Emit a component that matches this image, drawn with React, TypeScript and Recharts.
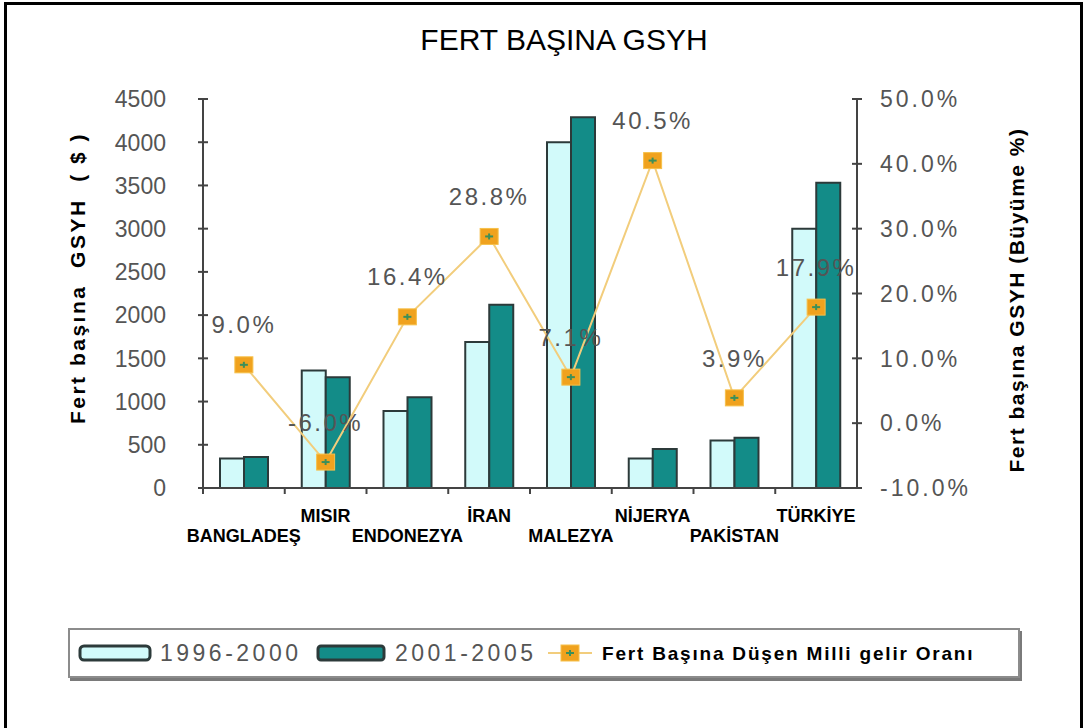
import React from 'react';
import { ComposedChart, Bar, Line, XAxis, YAxis, LabelList } from 'recharts';

const categories = ['BANGLADEŞ', 'MISIR', 'ENDONEZYA', 'İRAN', 'MALEZYA', 'NİJERYA', 'PAKİSTAN', 'TÜRKİYE'];
const gdp1996to2000 = [340, 1360, 890, 1690, 4000, 340, 550, 3000];
const gdp2001to2005 = [360, 1280, 1050, 2120, 4290, 450, 580, 3530];
const growthRate = [9.0, -6.0, 16.4, 28.8, 7.1, 40.5, 3.9, 17.9];
const leftTicks = [0, 500, 1000, 1500, 2000, 2500, 3000, 3500, 4000, 4500];
const rightTicks = [-10, 0, 10, 20, 30, 40, 50];
const seriesNames = ['1996-2000', '2001-2005', 'Fert Başına Düşen Milli gelir Oranı'];
const chartTitle = 'FERT BAŞINA GSYH';
const leftAxisTitle = 'Fert başına  GSYH  ( $ )';
const rightAxisTitle = 'Fert başına GSYH (Büyüme %)';

const data = categories.map((name, i) => ({
  name,
  a: gdp1996to2000[i],
  b: gdp2001to2005[i],
  g: growthRate[i],
}));

const FONT = '"Liberation Sans", Arial, sans-serif';
const AXIS = '#444';
const GRAY_TEXT = '#555';
const LIGHT = '#d2fafa';
const TEAL = '#138c88';
const BAR_STROKE = '#2c3a3a';
const LINE_COLOR = '#f2cd7c';
const MARK = '#f0a21e';

const LEFT_MARGIN = 37;
const RIGHT_MARGIN = 23;

const LeftTick = (props: any) => {
  const { x, y, payload } = props;
  const ax = x + LEFT_MARGIN;
  return (
    <g>
      <line x1={ax - 5} x2={ax + 5} y1={y} y2={y} stroke={AXIS} strokeWidth={2} />
      <text x={x} y={y} dy="0.36em" textAnchor="end" fontFamily={FONT} fontSize={23} fill={GRAY_TEXT}>
        {payload.value}
      </text>
    </g>
  );
};

const RightTick = (props: any) => {
  const { x, y, payload } = props;
  const ax = x - RIGHT_MARGIN;
  return (
    <g>
      <line x1={ax - 5} x2={ax + 5} y1={y} y2={y} stroke={AXIS} strokeWidth={2} />
      <text x={x} y={y} dy="0.36em" textAnchor="start" fontFamily={FONT} fontSize={23} letterSpacing={3} fill={GRAY_TEXT}>
        {`${Number(payload.value).toFixed(1)}%`}
      </text>
    </g>
  );
};

const CatTick = (props: any) => {
  const { x, y, payload, index, width, visibleTicksCount } = props;
  const band = width / (visibleTicksCount || categories.length);
  const bx = x - band / 2;
  const ly = index % 2 === 0 ? y + 48 : y + 28;
  return (
    <g>
      <line x1={bx} x2={bx} y1={y} y2={y + 6} stroke={AXIS} strokeWidth={2} />
      <text x={x} y={ly} dy="0.36em" textAnchor="middle" fontFamily={FONT} fontWeight="bold" fontSize={18} fill="#000">
        {payload.value}
      </text>
    </g>
  );
};

const MarkerDot = (props: any) => {
  const { cx, cy } = props;
  if (cx == null || cy == null) return null;
  return (
    <g>
      <rect x={cx - 9} y={cy - 8} width={18} height={16} fill={MARK} stroke="#f6c04a" strokeWidth={1} />
      <line x1={cx - 4} x2={cx + 4} y1={cy} y2={cy} stroke="#3c8f5a" strokeWidth={2} />
      <line x1={cx} x2={cx} y1={cy - 3} y2={cy + 3} stroke="#3c8f5a" strokeWidth={2} />
    </g>
  );
};

const GrowthLabel = (props: any) => {
  const { x, y, value } = props;
  return (
    <text x={x} y={y - 40} dy="0.36em" textAnchor="middle" fontFamily={FONT} fontSize={24} letterSpacing={2.5} fill={GRAY_TEXT}>
      {`${Number(value).toFixed(1)}%`}
    </text>
  );
};

const LeftTitle = (props: any) => {
  const vb = props.viewBox || {};
  const cx = vb.x + 24;
  const cy = 278;
  return (
    <text x={cx} y={cy} transform={`rotate(-90 ${cx} ${cy})`} textAnchor="middle" dy="0.36em"
      fontFamily={FONT} fontWeight="bold" fontSize={21} letterSpacing={2.5} style={{ whiteSpace: 'pre' }} fill="#000">
      {leftAxisTitle}
    </text>
  );
};

const RightTitle = (props: any) => {
  const vb = props.viewBox || {};
  const cx = vb.x + 159;
  const cy = 300;
  return (
    <text x={cx} y={cy} transform={`rotate(-90 ${cx} ${cy})`} textAnchor="middle" dy="0.36em"
      fontFamily={FONT} fontWeight="bold" fontSize={21} letterSpacing={1.5} style={{ whiteSpace: 'pre' }} fill="#000">
      {rightAxisTitle}
    </text>
  );
};

const Legend = () => (
  <div style={{
    position: 'absolute', left: 68, top: 628, width: 948, height: 46,
    border: '2px solid #8c8c8c', boxShadow: '2px 3px 0 #7a7a7a', background: '#fff',
    fontFamily: FONT,
  }}>
    <svg width={948} height={46} style={{ position: 'absolute', left: 0, top: 0 }}>
      <rect x={10} y={16} width={70} height={14} rx={4} fill={LIGHT} stroke={BAR_STROKE} strokeWidth={3} />
      <text x={90} y={23} dy="0.36em" fontFamily={FONT} fontSize={23} letterSpacing={3.5} fill={GRAY_TEXT}>{seriesNames[0]}</text>
      <rect x={248} y={16} width={66} height={14} rx={3} fill={TEAL} stroke={BAR_STROKE} strokeWidth={3} />
      <text x={325} y={23} dy="0.36em" fontFamily={FONT} fontSize={23} letterSpacing={3.5} fill={GRAY_TEXT}>{seriesNames[1]}</text>
      <line x1={478} x2={522} y1={23} y2={23} stroke={LINE_COLOR} strokeWidth={2} />
      <MarkerDot cx={500} cy={23} />
      <text x={532} y={23} dy="0.36em" fontFamily={FONT} fontWeight="bold" fontSize={19} letterSpacing={1.8} fill="#000">{seriesNames[2]}</text>
    </svg>
  </div>
);

export default function App() {
  return (
    <div style={{ position: 'absolute', left: 0, top: 0, width: 1090, height: 728, overflow: 'hidden', background: '#fff' }}>
      <div style={{
        position: 'absolute', left: 4, top: 2, width: 1079, height: 760,
        border: '3px solid #000', boxSizing: 'border-box',
      }} />
      <div style={{
        position: 'absolute', left: 19, top: 23, width: 1090, textAlign: 'center',
        fontFamily: FONT, fontSize: 30, color: '#000',
      }}>{chartTitle}</div>
      <div style={{ position: 'absolute', left: 0, top: 0 }}>
        <ComposedChart width={1090} height={728} data={data}
          margin={{ top: 99, right: 58, bottom: 180, left: 53 }}
          barGap={0} barCategoryGap="21%">
          <XAxis dataKey="name" xAxisId="x" height={60} axisLine={{ stroke: AXIS, strokeWidth: 2 }}
            tickLine={false} tickSize={0} tickMargin={0} interval={0} tick={<CatTick />} />
          <YAxis yAxisId="left" orientation="left" width={150} domain={[0, 4500]} ticks={leftTicks}
            axisLine={{ stroke: AXIS, strokeWidth: 2 }} tickLine={false} tickSize={0} tickMargin={LEFT_MARGIN}
            tick={<LeftTick />} interval={0} label={{ content: <LeftTitle /> }} />
          <YAxis yAxisId="right" orientation="right" width={175} domain={[-10, 50]} ticks={rightTicks}
            axisLine={{ stroke: AXIS, strokeWidth: 2 }} tickLine={false} tickSize={0} tickMargin={RIGHT_MARGIN}
            tick={<RightTick />} interval={0} label={{ content: <RightTitle /> }} />
          <Bar xAxisId="x" yAxisId="left" dataKey="a" name={seriesNames[0]} fill={LIGHT} stroke={BAR_STROKE}
            strokeWidth={2} barSize={24} isAnimationActive={false} />
          <Bar xAxisId="x" yAxisId="left" dataKey="b" name={seriesNames[1]} fill={TEAL} stroke={BAR_STROKE}
            strokeWidth={2} barSize={24} isAnimationActive={false} />
          <Line xAxisId="x" yAxisId="right" dataKey="g" name={seriesNames[2]} stroke={LINE_COLOR} strokeWidth={2}
            dot={<MarkerDot />} activeDot={false} isAnimationActive={false}>
            <LabelList dataKey="g" content={<GrowthLabel />} />
          </Line>
        </ComposedChart>
      </div>
      <Legend />
    </div>
  );
}
